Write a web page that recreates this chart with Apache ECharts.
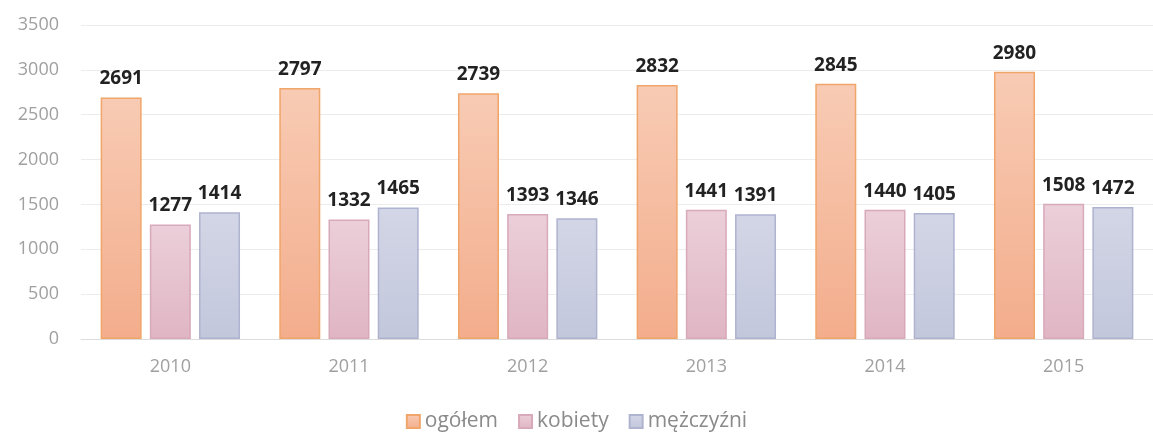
<!DOCTYPE html>
<html><head><meta charset="utf-8">
<script src="https://cdn.jsdelivr.net/npm/echarts@6/dist/echarts.min.js"></script>
<style>html,body{margin:0;padding:0;background:#fff}#c{width:1153px;height:434px}</style>
</head><body><div id="c"></div>
<script>
const categories = ['2010','2011','2012','2013','2014','2015'];
const ogolem = [2691, 2797, 2739, 2832, 2845, 2980];
const kobiety = [1277, 1332, 1393, 1441, 1440, 1508];
const mezczyzni = [1414, 1465, 1346, 1391, 1405, 1472];
const yTicks = [0, 500, 1000, 1500, 2000, 2500, 3000, 3500];

const font = '"Open Sans", "DejaVu Sans", sans-serif';
function grad(top, bottom){
  return new echarts.graphic.LinearGradient(0,0,0,1,[{offset:0,color:top},{offset:1,color:bottom}]);
}
const label = {show:true, position:'top', distance:9, fontFamily:font, fontWeight:'bold', fontSize:19, color:'#222'};
const chart = echarts.init(document.getElementById('c'));
chart.setOption({
  animation:false,
  grid:{left:81, top:25, width:1075, height:314, containLabel:false},
  legend:{bottom:-3, left:'center', itemWidth:13, itemHeight:13, itemGap:20,
    icon:'rect', textStyle:{fontFamily:font, fontSize:21, color:'#8a8a8a'}},
  xAxis:{type:'category', data:categories, axisLine:{lineStyle:{color:'#dcdcdc'}}, axisTick:{show:false},
    axisLabel:{margin:19, fontFamily:font, fontSize:18, color:'#a0a0a0'}},
  yAxis:{type:'value', min:yTicks[0], max:yTicks[yTicks.length-1], interval:500,
    axisLine:{show:false}, axisTick:{show:false},
    splitLine:{lineStyle:{color:'#ececec'}},
    axisLabel:{margin:22, fontFamily:font, fontSize:18, color:'#a0a0a0', formatter: v => String(v)}},
  series:[
    {name:'ogółem', type:'bar', data:ogolem, barWidth:41, barGap:'20%',
      itemStyle:{color:grad('#f8cbb4','#f3ad8c'), borderColor:'#f0a56a', borderWidth:1.5}, label:label},
    {name:'kobiety', type:'bar', data:kobiety, barWidth:41,
      itemStyle:{color:grad('#ebcfd9','#e0b5c4'), borderColor:'#d8a9ba', borderWidth:1.5}, label:label},
    {name:'mężczyźni', type:'bar', data:mezczyzni, barWidth:41,
      itemStyle:{color:grad('#d3d6e6','#c3c7dc'), borderColor:'#aeb3cf', borderWidth:1.5}, label:label}
  ]
});
</script></body></html>
